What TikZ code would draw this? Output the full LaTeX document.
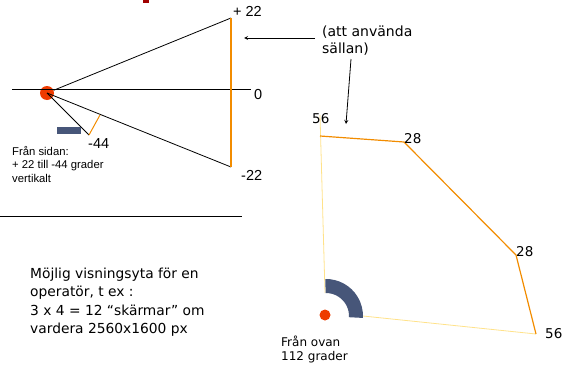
\documentclass[tikz,border=0pt]{standalone}
\usepackage{fontspec}
\setmainfont{DejaVu Sans}
\newfontfamily\arialfont{Liberation Sans}
\usetikzlibrary{arrows,positioning}

\definecolor{eyered}{HTML}{EE3B00}
\definecolor{lineorange}{HTML}{F28C00}
\definecolor{paleyellow}{HTML}{FFE28A}
\definecolor{slateblue}{HTML}{475679}
\definecolor{titlered}{HTML}{A00000}

\begin{document}
\begin{tikzpicture}[
    x=1pt, y=-1pt,
    lbl/.style={inner sep=0pt, anchor=base west, font=\arialfont\fontsize{14.5}{16}\selectfont},
    num/.style={inner sep=0pt, anchor=base west, font=\fontsize{13.5}{16}\selectfont},
    note/.style={inner sep=0pt, anchor=base west, align=left},
    ray/.style={black, line width=0.8pt},
    edge/.style={lineorange, line width=1.2pt},
    faint/.style={paleyellow, line width=0.8pt},
    arrow/.style={->, >=stealth, line width=0.8pt},
    eye/.style={circle, fill=eyered, inner sep=0pt}
]
    \useasboundingbox (0,0) rectangle (562,367);
    \fill[titlered] (143,0) rectangle (149,2.5);

    % side view
    \coordinate (ax1) at (12,89);
    \coordinate (ax2) at (251,89);
    \coordinate (top) at (231,18);
    \coordinate (bot) at (231,167);
    \coordinate (low) at (89,135);
    \coordinate (mid) at (100,115);
    \node[eye, minimum size=14pt] (side) at (47,93) {};
    \draw[ray] (ax1) -- (ax2);
    \draw[ray] (side) -- (top);
    \draw[ray] (side.center) -- (bot);
    \draw[ray] (side.center) -- (low);
    \draw[lineorange, line width=1pt] (low) -- (mid);
    \draw[lineorange, line width=2pt] (top) -- (bot);
    \fill[slateblue] (57,127) rectangle (81,134);

    \node[lbl] (p22) at (233,16) {+ 22};
    \node[lbl] (zero) at (254,99) {0};
    \node[lbl] (m44) at (88,148) {-44};
    \node[lbl] (m22) at (241,180) {-22};
    % base of a multi-line node = last line
    \node[note, font=\arialfont\fontsize{11.3}{13.5}\selectfont] (sidenote) at (12,182)
        {Från sidan:\\+ 22 till -44 grader\\vertikalt};

    \coordinate (sep1) at (0,216);
    \coordinate (sep2) at (242,216);
    \draw[ray] (sep1) -- (sep2);

    % rarely used
    \node[note, font=\fontsize{14}{17}\selectfont] (rare) at (322,53) {(att använda\\sällan)};
    \coordinate (tail) at (315,38);
    \coordinate (head) at (244,38);
    \coordinate (tail2) at (351,59);
    \coordinate (head2) at (346,124);
    \draw[arrow] (tail) -- (head);
    \draw[arrow] (tail2) -- (head2);

    % top view
    \coordinate (p56a) at (320,136);
    \coordinate (p28a) at (404,142);
    \coordinate (p28b) at (516,255);
    \coordinate (p56b) at (536,334);
    \coordinate (yl1) at (320,115);
    \coordinate (yl2) at (325,293);
    \coordinate (yl3) at (363,316);
    \coordinate (ctr) at (326,316);
    \draw[faint] (yl1) -- (yl2);
    \draw[faint] (yl3) -- (p56b);
    \draw[edge] (p56a) -- (p28a) -- (p28b) -- (p56b);
    \fill[slateblue] (ctr) ++(91:37pt) arc[start angle=91, end angle=-3, radius=37pt]
        -- ++(177:14pt) arc[start angle=-3, end angle=91, radius=23pt] -- cycle;
    \node[eye, minimum size=11pt] (topeye) at (325,315) {};

    \node[num] (n56a) at (312,123) {56};
    \node[num] (n28a) at (404,143) {28};
    \node[num] (n28b) at (516,256) {28};
    \node[num] (n56b) at (545,338) {56};
    \node[note, font=\fontsize{12}{14}\selectfont] (topnote) at (281,360) {Från ovan\\112 grader};

    \node[note, font=\fontsize{13.8}{17.5}\selectfont] (area) at (30,333)
        {Möjlig visningsyta för en\\operatör, t ex :\\[2pt]3 x 4 = 12 “skärmar” om\\vardera 2560x1600 px};
\end{tikzpicture}
\end{document}
